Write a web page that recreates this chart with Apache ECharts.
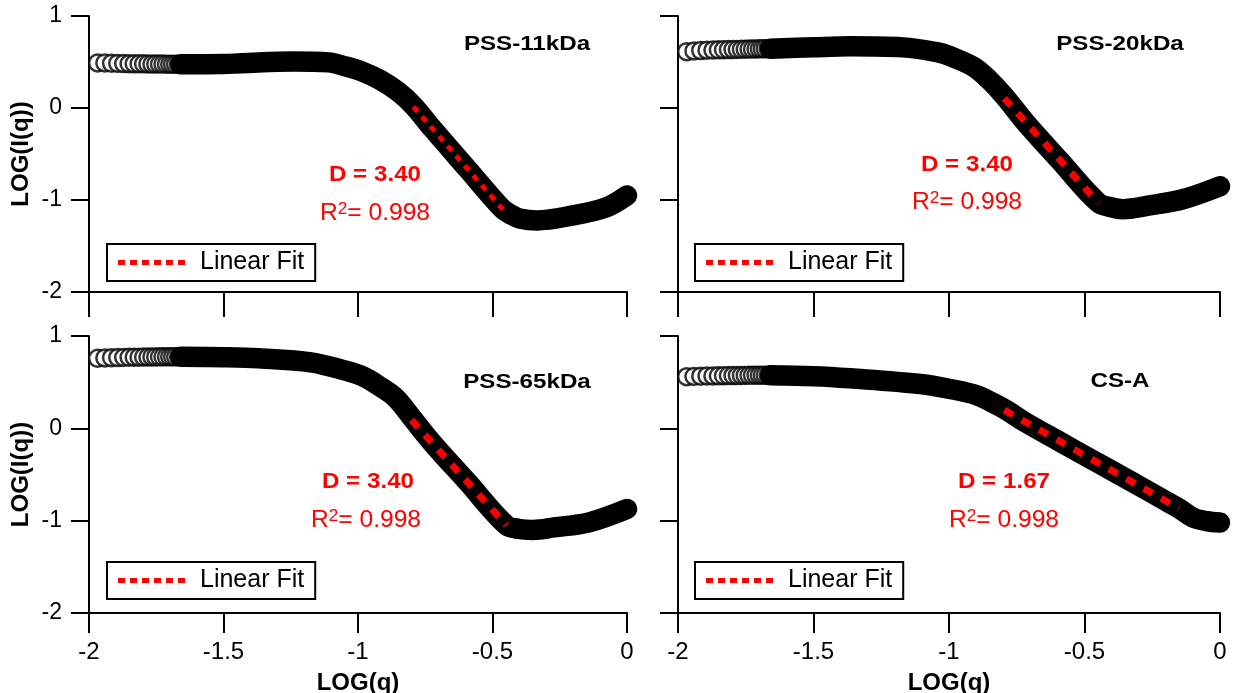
<!DOCTYPE html>
<html><head><meta charset="utf-8">
<script src="https://cdn.jsdelivr.net/npm/echarts@6/dist/echarts.min.js"></script>
<style>html,body{margin:0;padding:0;background:#fff}#c{width:1238px;height:693px}</style>
</head><body><div id="c"></div>
<script>
const FONT = '"Liberation Sans", Arial, sans-serif';

// ---------- data ----------
const panelNames = ['PSS-11kDa', 'PSS-20kDa', 'PSS-65kDa', 'CS-A'];
const dValues = ['3.40', '3.40', '3.40', '1.67'];
const r2Values = ['0.998', '0.998', '0.998', '0.998'];
const xTicks = [-2, -1.5, -1, -0.5, 0];
const yTicks = [-2, -1, 0, 1];

// sparse open markers at low q (same LOG(q) positions in every panel)
const openX = [-1.968, -1.941, -1.916, -1.893, -1.871, -1.851, -1.832, -1.814, -1.797, -1.781,
               -1.766, -1.752, -1.738, -1.725, -1.712, -1.700, -1.689, -1.678, -1.667];
const openY_11 = [0.49, 0.49, 0.486, 0.485, 0.483, 0.482, 0.481, 0.480, 0.480, 0.479,
                  0.478, 0.478, 0.477, 0.477, 0.476, 0.476, 0.475, 0.475, 0.475];
const openY_20 = [0.612, 0.62, 0.625, 0.628, 0.63, 0.632, 0.634, 0.635, 0.636, 0.637,
                  0.638, 0.639, 0.640, 0.641, 0.642, 0.643, 0.644, 0.644, 0.645];
const openY_65 = [0.758, 0.762, 0.765, 0.767, 0.768, 0.769, 0.770, 0.771, 0.772, 0.772,
                  0.773, 0.773, 0.774, 0.774, 0.774, 0.775, 0.775, 0.775, 0.775];
const openY_CS = [0.559, 0.562, 0.565, 0.567, 0.568, 0.569, 0.570, 0.571, 0.572, 0.572,
                  0.573, 0.573, 0.574, 0.574, 0.574, 0.575, 0.575, 0.575, 0.575];

// dense part of the scattering curve (merges into a solid band of markers)
const bandX_11 = [-1.66, -1.50, -1.434, -1.24, -1.11, -1.046, -0.981, -0.917, -0.852, -0.794,
                  -0.723, -0.594, -0.464, -0.43, -0.40, -0.335, -0.206, -0.077, 0];
const bandY_11 = [0.475, 0.478, 0.486, 0.505, 0.496, 0.452, 0.392, 0.305, 0.18, 0.025,
                  -0.225, -0.659, -1.094, -1.16, -1.20, -1.222, -1.17, -1.08, -0.95];
const bandX_20 = [-1.66, -1.50, -1.365, -1.17, -1.041, -1.0, -0.911, -0.85, -0.796, -0.72,
                  -0.591, -0.449, -0.40, -0.36, -0.265, -0.134, 0];
const bandY_20 = [0.645, 0.66, 0.67, 0.659, 0.605, 0.568, 0.45, 0.30, 0.13, -0.149,
                  -0.573, -1.03, -1.08, -1.10, -1.062, -0.989, -0.85];
const bandX_65 = [-1.66, -1.50, -1.369, -1.175, -1.046, -0.98, -0.917, -0.86, -0.801, -0.723,
                  -0.594, -0.449, -0.40, -0.35, -0.271, -0.141, 0];
const bandY_65 = [0.775, 0.77, 0.758, 0.715, 0.624, 0.56, 0.45, 0.33, 0.12, -0.161,
                  -0.578, -1.048, -1.09, -1.10, -1.073, -1.018, -0.874];
const bandX_CS = [-1.66, -1.50, -1.365, -1.106, -0.976, -0.90, -0.846, -0.796, -0.72, -0.591,
                  -0.461, -0.329, -0.199, -0.151, -0.10, -0.05, 0];
const bandY_CS = [0.575, 0.565, 0.542, 0.48, 0.415, 0.36, 0.288, 0.21, 0.069, -0.145,
                  -0.358, -0.573, -0.788, -0.867, -0.965, -1.005, -1.02];

// linear fits (red dotted)
const fitX_11 = [-0.794, -0.449], fitY_11 = [0.014, -1.145];
const fitX_20 = [-0.796, -0.449], fitY_20 = [0.105, -1.029];
const fitX_65 = [-0.801, -0.449], fitY_65 = [0.09, -1.048];
const fitX_CS = [-0.796, -0.151], fitY_CS = [0.198, -0.867];

// ---------- layout (pixels) ----------
const grids = [
  {left: 89, top: 16, width: 538, height: 276},
  {left: 678, top: 16, width: 542, height: 276},
  {left: 89, top: 336, width: 538, height: 277},
  {left: 678, top: 336, width: 542, height: 277}
];
const legendPos = [[107, 244], [695, 244], [107, 562], [695, 562]];
const titlePos = [[527, 44], [1120, 44], [527, 382], [1120, 381]];
const dPos = [[375, 175], [967, 165], [368, 482], [1004, 482]];
const rPos = [[375, 214], [967, 203], [366, 521], [1004, 521]];

const openY = [openY_11, openY_20, openY_65, openY_CS];
const bandX = [bandX_11, bandX_20, bandX_65, bandX_CS];
const bandY = [bandY_11, bandY_20, bandY_65, bandY_CS];
const fitX = [fitX_11, fitX_20, fitX_65, fitX_CS];
const fitY = [fitY_11, fitY_20, fitY_65, fitY_CS];
const zip = (xs, ys) => xs.map((x, i) => [x, ys[i]]);

const RED = '#ff0000';
const LEGEND_ICON = 'path://M0,0H7V5H0Z M12,0H19V5H12Z M24,0H31V5H24Z M36,0H43V5H36Z M48,0H55V5H48Z M60,0H67V5H60Z';
const xAxes = [], yAxes = [], series = [], legends = [], graphics = [];
for (let i = 0; i < 4; i++) {
  const bottom = i >= 2, left = i % 2 === 0;
  xAxes.push({
    type: 'value', gridIndex: i,
    min: xTicks[0], max: xTicks[xTicks.length - 1], interval: xTicks[1] - xTicks[0],
    axisLine: {show: true, onZero: false, lineStyle: {color: '#000', width: 2}},
    axisTick: {show: true, inside: false, length: bottom ? 20 : 25, lineStyle: {color: '#000', width: 2}},
    axisLabel: {show: bottom, color: '#000', fontSize: 24, fontFamily: FONT, margin: 27,
                showMinLabel: true, showMaxLabel: true},
    splitLine: {show: false},
    name: bottom ? 'LOG(q)' : '', nameLocation: 'middle', nameGap: 58,
    nameTextStyle: {color: '#000', fontSize: 24, fontWeight: 'bold', fontFamily: FONT}
  });
  yAxes.push({
    type: 'value', gridIndex: i,
    min: yTicks[0], max: yTicks[yTicks.length - 1], interval: yTicks[1] - yTicks[0],
    axisLine: {show: true, onZero: false, lineStyle: {color: '#000', width: 2}},
    axisTick: {show: true, inside: false, length: 18, lineStyle: {color: '#000', width: 2}},
    axisLabel: {show: left, color: '#000', fontSize: 23, fontFamily: FONT, margin: 27,
                showMinLabel: true, showMaxLabel: true},
    splitLine: {show: false},
    name: left ? 'LOG(I(q))' : '', nameLocation: 'middle', nameGap: 56,
    nameTextStyle: {color: '#000', fontSize: 24, fontWeight: 'bold', fontFamily: FONT}
  });
  series.push({
    type: 'scatter', name: panelNames[i], xAxisIndex: i, yAxisIndex: i,
    data: zip(openX, openY[i]), symbol: 'circle', symbolSize: 17,
    itemStyle: {color: '#fff', borderColor: '#000', borderWidth: 2.5},
    clip: false, silent: true, z: 2
  });
  series.push({
    type: 'line', name: panelNames[i] + ' data', xAxisIndex: i, yAxisIndex: i,
    data: zip(bandX[i], bandY[i]), symbol: 'none', showSymbol: false, smooth: 0.35,
    lineStyle: {color: '#000', width: 20.5, cap: 'round', join: 'round'},
    clip: false, silent: true, z: 3
  });
  series.push({
    type: 'line', name: 'Linear Fit', xAxisIndex: i, yAxisIndex: i,
    data: zip(fitX[i], fitY[i]), symbol: 'none', showSymbol: false, color: RED,
    itemStyle: {color: RED},
    lineStyle: {color: RED, width: i === 0 ? 5 : 7, type: i === 0 ? [6.5, 6.5] : [10, 10], cap: 'butt'},
    clip: false, silent: true, z: 4
  });
  legends.push({
    show: true, left: legendPos[i][0], top: legendPos[i][1], orient: 'horizontal',
    data: [{name: 'Linear Fit', icon: LEGEND_ICON}],
    itemWidth: 67, itemHeight: 5, selectedMode: false,
    padding: [6, 11, 6, 11], borderColor: '#000', borderWidth: 2, backgroundColor: '#fff',
    textStyle: {color: '#000', fontSize: 25, fontFamily: FONT, padding: [0, 0, 0, 10]}
  });
  graphics.push({
    type: 'text', x: titlePos[i][0], y: titlePos[i][1], scaleX: 1.15, z: 10,
    style: {text: panelNames[i], fill: '#000', fontSize: 21, fontWeight: 'bold', fontFamily: FONT,
            align: 'center', verticalAlign: 'middle', textAlign: 'center', textVerticalAlign: 'middle'}
  });
  graphics.push({
    type: 'text', x: dPos[i][0], y: dPos[i][1], scaleX: 1.1, z: 10,
    style: {text: 'D = ' + dValues[i], fill: RED, fontSize: 22, fontWeight: 'bold', fontFamily: FONT,
            align: 'center', verticalAlign: 'middle', textAlign: 'center', textVerticalAlign: 'middle'}
  });
  graphics.push({
    type: 'text', x: rPos[i][0], y: rPos[i][1], scaleX: 1.07, z: 10,
    style: {text: '{r|R}{s|2}{r|= ' + r2Values[i] + '}', fill: RED, fontFamily: FONT,
            align: 'center', verticalAlign: 'middle', textAlign: 'center', textVerticalAlign: 'middle',
            rich: {
              r: {fontSize: 23, lineHeight: 24, fill: RED, fontFamily: FONT},
              s: {fontSize: 16, lineHeight: 16, fill: RED, fontFamily: FONT, verticalAlign: 'top'}
            }}
  });
}

const chart = echarts.init(document.getElementById('c'), null, {renderer: 'canvas'});
chart.setOption({
  animation: false,
  backgroundColor: '#fff',
  grid: grids.map(g => Object.assign({containLabel: false, outerBoundsMode: 'none'}, g)),
  xAxis: xAxes,
  yAxis: yAxes,
  legend: legends,
  series: series,
  graphic: graphics
});
</script>
</body></html>
